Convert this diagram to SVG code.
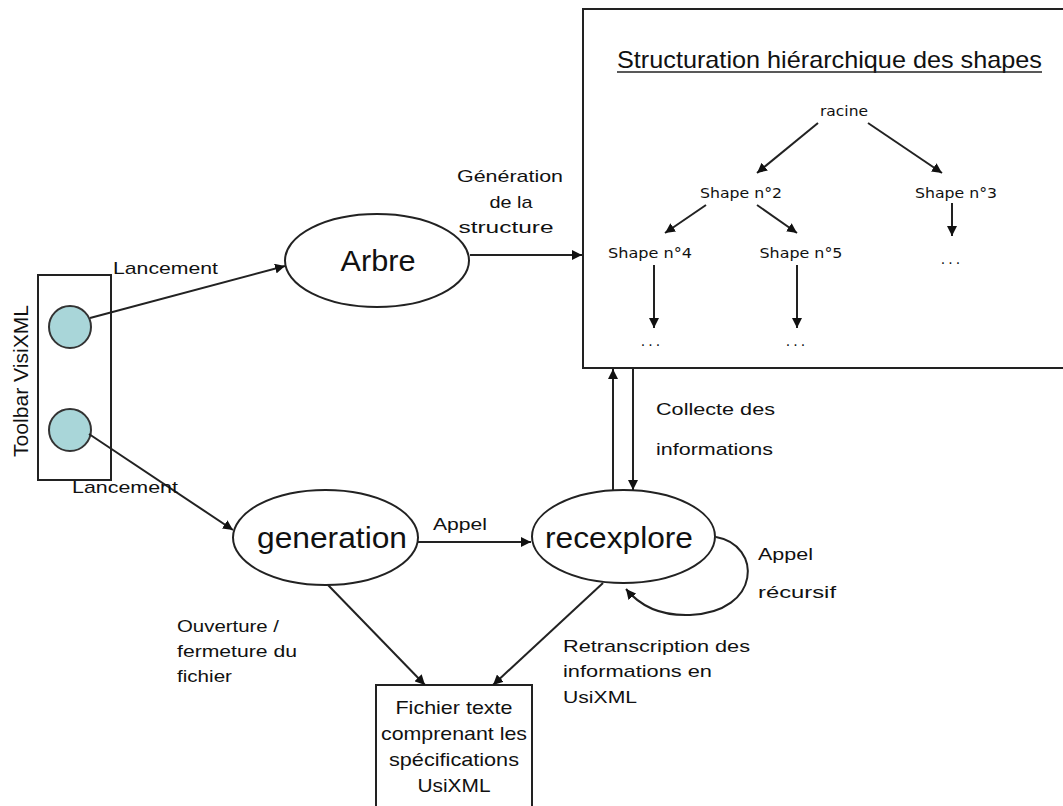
<svg xmlns="http://www.w3.org/2000/svg" width="1063" height="806" viewBox="0 0 1063 806">
<defs>
<style>
.t{font-family:"Liberation Sans",Arial,sans-serif;fill:#111;}
.lbl{font-size:17px;}
.big{font-size:30px;}
.tree{font-family:"DejaVu Sans","Liberation Sans",sans-serif;font-size:14px;fill:#111;}
.ln{stroke:#222;stroke-width:2;fill:none;}
.box{fill:#fff;stroke:#222;stroke-width:2;}
.ell{fill:#fff;stroke:#222;stroke-width:2;}
.dot{fill:#a9d6d9;stroke:#333;stroke-width:2;}
</style>
<marker id="ah" viewBox="0 0 10 10" refX="10" refY="5" markerWidth="10" markerHeight="10" markerUnits="userSpaceOnUse" orient="auto">
<path d="M0,0 L10,5 L0,10 z" fill="#111"/>
</marker>
</defs>
<rect width="1063" height="806" fill="#fff"/>

<g id="structure-box">
<rect class="box" x="583" y="9" width="490" height="359"/>
<text class="t" x="617" y="68" font-size="24" textLength="425" lengthAdjust="spacingAndGlyphs">Structuration hiérarchique des shapes</text>
<line x1="617" y1="72" x2="1042" y2="72" stroke="#222" stroke-width="1.5"/>
</g>
<g id="racine"><text class="tree" x="844" y="116" text-anchor="middle" textLength="48" lengthAdjust="spacingAndGlyphs">racine</text></g>
<g id="shape2"><text class="tree" x="741" y="198" text-anchor="middle" textLength="82" lengthAdjust="spacingAndGlyphs">Shape n°2</text></g>
<g id="shape3"><text class="tree" x="956" y="198" text-anchor="middle" textLength="82" lengthAdjust="spacingAndGlyphs">Shape n°3</text></g>
<g id="shape4"><text class="tree" x="650" y="258" text-anchor="middle" textLength="84" lengthAdjust="spacingAndGlyphs">Shape n°4</text></g>
<g id="shape5"><text class="tree" x="801" y="258" text-anchor="middle" textLength="83" lengthAdjust="spacingAndGlyphs">Shape n°5</text></g>
<g id="dots">
<text class="tree" x="652" y="346" text-anchor="middle" font-size="12" fill="#555" letter-spacing="3">...</text>
<text class="tree" x="797" y="346" text-anchor="middle" font-size="12" fill="#555" letter-spacing="3">...</text>
<text class="tree" x="952" y="264" text-anchor="middle" font-size="12" fill="#555" letter-spacing="3">...</text>
</g>

<g id="toolbar">
<rect class="box" x="38" y="275" width="73" height="205"/>
<circle class="dot" cx="70" cy="327" r="21"/>
<circle class="dot" cx="70" cy="430" r="21"/>
<text class="t" font-size="20" transform="translate(28,381) rotate(-90)" text-anchor="middle" textLength="152" lengthAdjust="spacingAndGlyphs">Toolbar VisiXML</text>
</g>

<g id="arbre">
<ellipse class="ell" cx="377" cy="260.5" rx="92" ry="46.5"/>
<text class="t big" x="378" y="271" text-anchor="middle" textLength="75" lengthAdjust="spacingAndGlyphs">Arbre</text>
</g>
<g id="generation">
<ellipse class="ell" cx="325.5" cy="537.5" rx="92.5" ry="47.5"/>
<text class="t big" x="332" y="548" text-anchor="middle" textLength="150" lengthAdjust="spacingAndGlyphs">generation</text>
</g>
<g id="recexplore">
<ellipse class="ell" cx="623.5" cy="536.5" rx="91.5" ry="46.5"/>
<text class="t big" x="619" y="548" text-anchor="middle" textLength="148" lengthAdjust="spacingAndGlyphs">recexplore</text>
</g>
<g id="fichier">
<rect class="box" x="376" y="685" width="156" height="130"/>
<text class="t" font-size="19" x="454" y="714" text-anchor="middle" textLength="117" lengthAdjust="spacingAndGlyphs">Fichier texte</text>
<text class="t" font-size="19" x="454" y="740" text-anchor="middle" textLength="146" lengthAdjust="spacingAndGlyphs">comprenant les</text>
<text class="t" font-size="19" x="454" y="766" text-anchor="middle" textLength="130" lengthAdjust="spacingAndGlyphs">spécifications</text>
<text class="t" font-size="19" x="454" y="792" text-anchor="middle" textLength="73" lengthAdjust="spacingAndGlyphs">UsiXML</text>
</g>

<g id="connectors">
<line class="ln" x1="818" y1="123" x2="757" y2="173" marker-end="url(#ah)"/>
<line class="ln" x1="868" y1="123" x2="942" y2="173" marker-end="url(#ah)"/>
<line class="ln" x1="706" y1="205" x2="665" y2="233" marker-end="url(#ah)"/>
<line class="ln" x1="757" y1="205" x2="797" y2="233" marker-end="url(#ah)"/>
<line class="ln" x1="654" y1="265" x2="654" y2="328" marker-end="url(#ah)"/>
<line class="ln" x1="797" y1="265" x2="797" y2="328" marker-end="url(#ah)"/>
<line class="ln" x1="952" y1="203" x2="952" y2="236" marker-end="url(#ah)"/>
<line class="ln" x1="90" y1="318" x2="285" y2="266" marker-end="url(#ah)"/>
<line class="ln" x1="470" y1="255" x2="582" y2="255" marker-end="url(#ah)"/>
<line class="ln" x1="89" y1="434" x2="233" y2="530" marker-end="url(#ah)"/>
<line class="ln" x1="418" y1="542" x2="531" y2="542" marker-end="url(#ah)"/>
<line class="ln" x1="613" y1="490" x2="613" y2="369" marker-end="url(#ah)"/>
<line class="ln" x1="633" y1="368" x2="633" y2="490" marker-end="url(#ah)"/>
<path class="ln" d="M716 537 C762 545 762 612 690 615 C662 616 640 606 626 589" marker-end="url(#ah)"/>
<line class="ln" x1="328" y1="585" x2="425" y2="685" marker-end="url(#ah)"/>
<line class="ln" x1="603" y1="583" x2="493" y2="685" marker-end="url(#ah)"/>
</g>

<g id="labels">
<text class="t lbl" x="113" y="274" textLength="105" lengthAdjust="spacingAndGlyphs">Lancement</text>
<text class="t lbl" x="72" y="493" textLength="106" lengthAdjust="spacingAndGlyphs">Lancement</text>
<text class="t lbl" x="510" y="182" text-anchor="middle" textLength="106" lengthAdjust="spacingAndGlyphs">Génération</text>
<text class="t lbl" x="511" y="208" text-anchor="middle" textLength="43" lengthAdjust="spacingAndGlyphs">de la</text>
<text class="t lbl" x="506" y="233" text-anchor="middle" textLength="95" lengthAdjust="spacingAndGlyphs">structure</text>
<text class="t lbl" x="433" y="530" textLength="54" lengthAdjust="spacingAndGlyphs">Appel</text>
<text class="t lbl" x="656" y="415" textLength="119" lengthAdjust="spacingAndGlyphs">Collecte des</text>
<text class="t lbl" x="656" y="455" textLength="117" lengthAdjust="spacingAndGlyphs">informations</text>
<text class="t lbl" x="758" y="560" textLength="55" lengthAdjust="spacingAndGlyphs">Appel</text>
<text class="t lbl" x="758" y="598" textLength="78" lengthAdjust="spacingAndGlyphs">récursif</text>
<text class="t lbl" x="177" y="632" textLength="102" lengthAdjust="spacingAndGlyphs">Ouverture /</text>
<text class="t lbl" x="177" y="657" textLength="120" lengthAdjust="spacingAndGlyphs">fermeture du</text>
<text class="t lbl" x="177" y="682" textLength="55" lengthAdjust="spacingAndGlyphs">fichier</text>
<text class="t lbl" x="563" y="652" textLength="187" lengthAdjust="spacingAndGlyphs">Retranscription des</text>
<text class="t lbl" x="563" y="677" textLength="149" lengthAdjust="spacingAndGlyphs">informations en</text>
<text class="t lbl" x="563" y="703" textLength="74" lengthAdjust="spacingAndGlyphs">UsiXML</text>
</g>
</svg>
